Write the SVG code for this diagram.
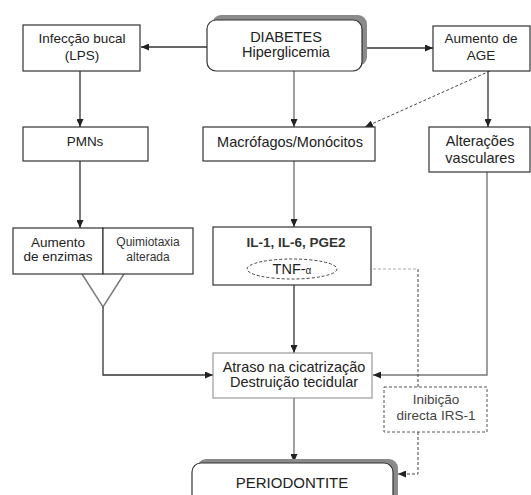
<svg xmlns="http://www.w3.org/2000/svg" width="531" height="495" viewBox="0 0 531 495">
<defs>
<marker id="ah" markerUnits="userSpaceOnUse" markerWidth="8" markerHeight="7" refX="8" refY="3.5" orient="auto">
<path d="M0,0 L8,3.5 L0,7 z" fill="#222"/>
</marker>
<style>
text{font-family:"Liberation Sans",Arial,sans-serif;fill:#222;text-anchor:middle}
.box{fill:#fff;stroke:#333;stroke-width:1.2}
.lbox{fill:#fff;stroke:#999;stroke-width:1.2}
.shadow{fill:#8a8a8a}
.ln{fill:none;stroke:#333;stroke-width:1.3}
.gl{fill:none;stroke:#777;stroke-width:1.4}
.ds{fill:none;stroke:#444;stroke-width:1;stroke-dasharray:3,2}
.dl{fill:none;stroke:#aaa;stroke-width:1;stroke-dasharray:3,2}
.f14{font-size:14.5px}
.f13{font-size:13.5px}
.f12{font-size:12px}
</style>
</defs>
<rect width="531" height="495" fill="#fff"/>

<g id="connectors">
<line class="ln" x1="207" y1="47" x2="141" y2="47" marker-end="url(#ah)"/>
<line class="ln" x1="367" y1="48" x2="433" y2="48" marker-end="url(#ah)"/>
<line class="ln" x1="80" y1="71" x2="80" y2="127" marker-end="url(#ah)"/>
<line class="gl" x1="294" y1="71" x2="294" y2="127" marker-end="url(#ah)"/>
<line class="ds" x1="490" y1="71" x2="365" y2="127" marker-end="url(#ah)"/>
<line class="ln" x1="488" y1="71" x2="488" y2="127" marker-end="url(#ah)"/>
<line class="ln" x1="80" y1="161" x2="80" y2="228" marker-end="url(#ah)"/>
<line class="gl" x1="294" y1="161" x2="294" y2="227" marker-end="url(#ah)"/>
<polyline class="gl" points="82,274 103,307 124,274"/>
<polyline class="ln" points="103,307 103,375 213,375" marker-end="url(#ah)"/>
<line class="ln" x1="294" y1="285" x2="294" y2="353" marker-end="url(#ah)"/>
<polyline class="gl" points="487,172 487,375 373,375" marker-end="url(#ah)"/>
<line class="dl" x1="338" y1="269" x2="418" y2="269"/>
<line class="ds" x1="418" y1="269" x2="418" y2="387"/>
<polyline class="ds" points="418,432 418,474 398,474" marker-end="url(#ah)"/>
<line class="gl" x1="294" y1="398" x2="294" y2="462" marker-end="url(#ah)"/>
</g>

<g id="diabetes">
<rect class="shadow" x="212" y="15" width="155" height="51" rx="9"/>
<rect class="box" x="207" y="20" width="155" height="51" rx="9"/>
<text class="f14" x="286" y="42">DIABETES</text>
<text class="f14" x="286" y="57">Hiperglicemia</text>
</g>

<g id="infeccao">
<rect class="box" x="23" y="25" width="117" height="46"/>
<text class="f13" x="82" y="43">Infecção bucal</text>
<text class="f13" x="82" y="60">(LPS)</text>
</g>

<g id="age">
<rect class="box" x="433" y="26" width="97" height="45"/>
<text class="f13" x="481" y="43">Aumento de</text>
<text class="f13" x="481" y="60">AGE</text>
</g>

<g id="pmns">
<rect class="box" x="23" y="127" width="125" height="34"/>
<text class="f13" x="85" y="146">PMNs</text>
</g>

<g id="macrofagos">
<rect class="box" x="203" y="127" width="172" height="34"/>
<text class="f14" x="290" y="147">Macrófagos/Monócitos</text>
</g>

<g id="alteracoes">
<rect class="box" x="429" y="127" width="101" height="45"/>
<text class="f14" x="480" y="146">Alterações</text>
<text class="f14" x="480" y="163">vasculares</text>
</g>

<g id="aumento-enzimas">
<rect class="box" x="13" y="228" width="90" height="46"/>
<text class="f13" x="58" y="247">Aumento</text>
<text class="f13" x="58" y="261">de enzimas</text>
</g>

<g id="quimiotaxia">
<rect class="box" x="103" y="228" width="90" height="46"/>
<text class="f12" x="148" y="246" style="fill:#333">Quimiotaxia</text>
<text class="f12" x="148" y="261" style="fill:#333">alterada</text>
</g>

<g id="interleucinas">
<rect class="box" x="213" y="227" width="158" height="58"/>
<text x="296" y="247" style="font-size:13.5px;font-weight:bold;fill:#333">IL-1, IL-6, PGE2</text>
</g>

<g id="tnf">
<ellipse cx="292" cy="269" rx="45" ry="10" fill="#fff" stroke="#444" stroke-width="1" stroke-dasharray="3,2"/>
<text class="f14" x="292" y="274">TNF-<tspan style="font-size:10px">α</tspan></text>
</g>

<g id="atraso">
<rect class="lbox" x="213" y="353" width="159" height="45"/>
<text class="f14" x="294" y="372">Atraso na cicatrização</text>
<text class="f14" x="294" y="387">Destruição tecidular</text>
</g>

<g id="inibicao">
<rect x="384" y="387" width="103" height="45" fill="#fff" stroke="#555" stroke-width="1" stroke-dasharray="3,2"/>
<text class="f13" x="436" y="404" style="fill:#444">Inibição</text>
<text class="f13" x="436" y="420" style="fill:#444">directa IRS-1</text>
</g>

<g id="periodontite">
<rect class="shadow" x="197" y="459" width="201" height="50" rx="9"/>
<rect class="box" x="192" y="463" width="201" height="50" rx="9"/>
<text x="292" y="488" style="font-size:15px">PERIODONTITE</text>
</g>
</svg>
